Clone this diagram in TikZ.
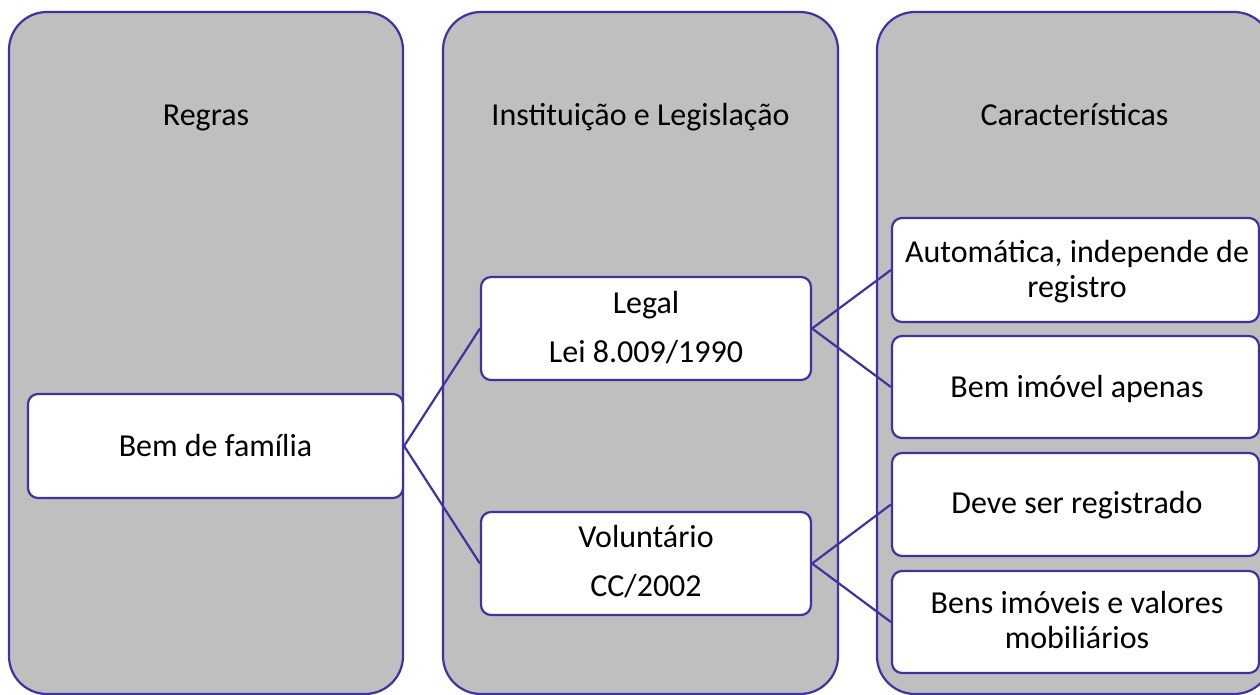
\documentclass[tikz,border=0pt]{standalone}
\usepackage{fontspec}
\setmainfont{Carlito}
\definecolor{edge}{RGB}{64,50,160}
\definecolor{panel}{RGB}{191,191,191}
\begin{document}
\begin{tikzpicture}[x=1pt,y=-1pt,
  column/.style={draw=edge, fill=panel, line width=2.2pt, rounded corners=38pt},
  item/.style={draw=edge, fill=white, line width=2.2pt, rounded corners=10pt,
    rectangle, inner sep=0pt, minimum height=103pt},
  lbl/.style={anchor=base, inner sep=0pt, font=\fontsize{32}{38}\selectfont},
  link/.style={draw=edge, line width=2.2pt}]
\useasboundingbox (0,0) rectangle (1260,695);

% three columns
\draw[column] (9,12) rectangle (403,694);
\draw[column] (443,12) rectangle (838,694);
\draw[column] (877,12) rectangle (1272,694);

% column headings
\node[lbl] (h1) at (206,126) {Regras};
\node[lbl] (h2) at (640.5,126) {Instituição e Legislação};
\node[lbl] (h3) at (1074.5,126) {Características};

% boxes
\node[item, minimum width=375pt, minimum height=104pt] (bem) at (215.5,446) {};
\node[item, minimum width=330pt] (legal) at (646,328.5) {};
\node[item, minimum width=330pt] (vol) at (646,563.5) {};
\node[item, minimum width=367pt, minimum height=104pt] (c1) at (1075.5,270) {};
\node[item, minimum width=367pt, minimum height=102pt] (c2) at (1075.5,387) {};
\node[item, minimum width=367pt] (c3) at (1075.5,504.5) {};
\node[item, minimum width=367pt, minimum height=102pt] (c4) at (1075.5,622) {};

% box texts
\node[lbl] (tbem) at (215.5,456) {Bem de família};
\node[lbl] (tlegal1) at (646,313) {Legal};
\node[lbl] (tlegal2) at (646,362) {Lei 8.009/1990};
\node[lbl] (tvol1) at (646,547) {Voluntário};
\node[lbl] (tvol2) at (646,596) {CC/2002};
\node[lbl] (tc1a) at (1077,262) {Automática, independe de};
\node[lbl] (tc1b) at (1077,297) {registro};
\node[lbl] (tc2) at (1077,397) {Bem imóvel apenas};
\node[lbl] (tc3) at (1077,513) {Deve ser registrado};
\node[lbl] (tc4a) at (1077,613) {Bens imóveis e valores};
\node[lbl] (tc4b) at (1077,648) {mobiliários};

% connectors
\draw[link] (bem.east) -- (legal.west);
\draw[link] (bem.east) -- (vol.west);
\draw[link] (legal.east) -- (c1.west);
\draw[link] (legal.east) -- (c2.west);
\draw[link] (vol.east) -- (c3.west);
\draw[link] (vol.east) -- (c4.west);
\end{tikzpicture}
\end{document}
